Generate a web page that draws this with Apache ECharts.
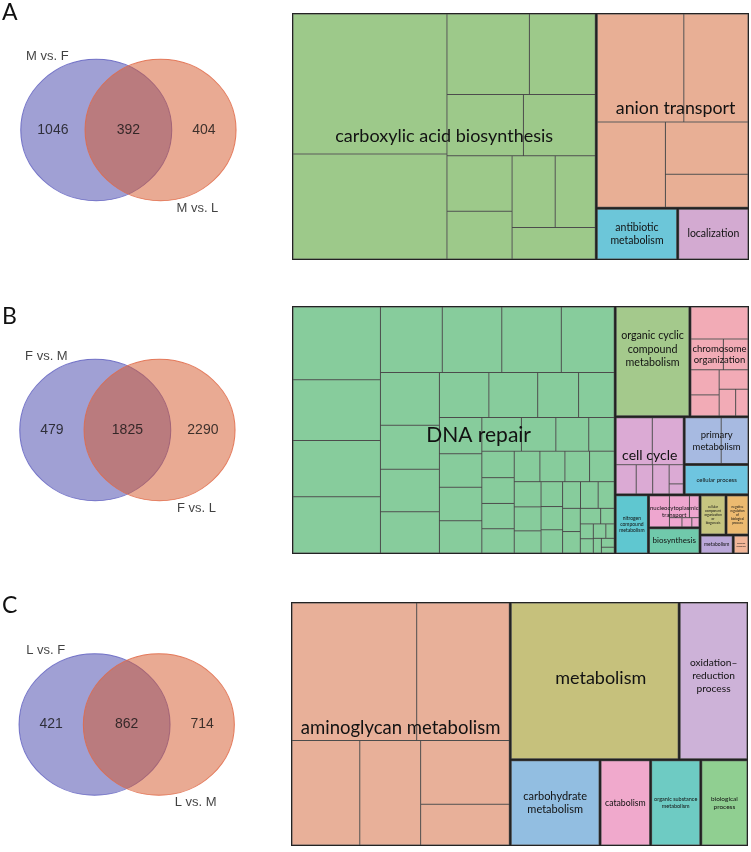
<!DOCTYPE html>
<html><head><meta charset="utf-8">
<script src="https://cdn.jsdelivr.net/npm/echarts@6/dist/echarts.min.js"></script>
<style>html,body{margin:0;padding:0;background:#fff}#c{width:751px;height:852px}</style>
</head><body><div id="c"></div>
<script>
// ---------------- DATA ----------------
const panelLetters = ['A', 'B', 'C'];
const vennSetNames = [['M vs. F', 'M vs. L'], ['F vs. M', 'F vs. L'], ['L vs. F', 'L vs. M']];
const vennOnlyFirst = [1046, 479, 421];
const vennShared = [392, 1825, 862];
const vennOnlySecond = [404, 2290, 714];

const termsA = ['carboxylic acid biosynthesis', 'anion transport', 'antibiotic\nmetabolism', 'localization'];
const cellsA = [
  [21855, 16378, 6723, 5373, 4748, 4461, 3659, 3159, 3136, 2917, 2660],
  [9556, 7085, 5934, 4406, 2789],
  [4212],
  [3692]
];

const termsB = ['DNA repair', 'organic cyclic\ncompound\nmetabolism', 'chromosome\norganization', 'cell cycle',
  'primary\nmetabolism', 'cellular process', 'nitrogen\ncompound\nmetabolism', 'nucleocytoplasmic\ntransport',
  'biosynthesis', 'cellular\ncomponent\norganization\nor\nbiogenesis', 'negative\nregulation\nof\nbiological\nprocess',
  'metabolism', 'immune\nresponse'];
const cellsB = [
  [6429, 5377, 4968, 4968, 4093, 3940, 3940, 3502, 3147, 2616, 2537, 2458, 2250, 2220, 1860, 1620,
   1552, 1439, 1439, 1383, 1347, 1173, 1120, 867, 867, 844, 828, 794, 792, 771, 760, 760, 683, 650,
   600, 542, 506, 506, 483, 475, 433, 416, 384, 320, 213, 195, 187, 183, 122, 120, 115, 75],
  [8250],
  [1917, 1050, 797, 745, 621, 589, 462, 345],
  [1780, 1526, 614, 507, 505, 285, 148],
  [1760, 1312],
  [1965],
  [1960],
  [682, 481, 231, 127, 100, 73],
  [1344],
  [1040],
  [920],
  [627],
  [298]
];
const blocksB = [[0], [1, 2], [3, 4, 5], [6, 7, 8, 9, 10, 11, 12]];

const termsC = ['aminoglycan metabolism', 'metabolism', 'oxidation\u2013\nreduction\nprocess', 'carbohydrate\nmetabolism',
  'catabolism', 'organic substance\nmetabolism', 'biological\nprocess'];
const cellsC = [
  [17385, 12907, 7195, 6458, 5745, 3663],
  [26580],
  [10833],
  [7713],
  [4344],
  [4311],
  [4056]
];

// ---------------- STYLE / LAYOUT ----------------
const colorsA = ['#9dc98a', '#e8af95', '#6cc6d9', '#d3aad1'];
const colorsB = ['#87cc9c', '#a4c98c', '#f2abb6', '#dbaad4', '#a7bae1', '#6ec5e0', '#5fc7d0', '#eea6cf',
  '#70c9ab', '#c6c580', '#ecba70', '#bba8d9', '#f2b698'];
const colorsC = ['#e8b099', '#c6c17c', '#cdb2d8', '#92bee1', '#f0a9cc', '#6ecbc3', '#90cf91'];
const fontsA = [18, 17.8, 10.5, 10.5];
const fontsB = [21, 10.7, 9.5, 14, 9.5, 6, 5, 6, 8, 3.2, 3.2, 5, 2.4];
const fontsC = [18.5, 18, 10.2, 11, 8.7, 5.5, 6.5];
const offsetsA = [[0, 0], [3, -2], [0, 0], [0, 0]];
const offsetsB = [[25, 5], [0, -12], [0, -7], [0, 0], [0, 0], [0, 0], [0, 0], [0, 0], [0, 0], [0, 0], [0, 0], [0, 0], [0, 0]];
const offsetsC = [[0, 4], [6, -3], [0, -5], [0, 0], [0, 0], [0, 0], [0, 0]];
const treeBoxes = [
  {left: 292, top: 13, width: 457, height: 247},
  {left: 292, top: 306, width: 457, height: 248},
  {left: 291, top: 602, width: 457, height: 244}
];
const vennCenters = [[128.4, 130], [127.4, 430], [126.7, 724.5]];
const vennSep = 64.3, vennW = 151, vennH = 141.5;
const vennNameOffsets = [[-81, -74], [69, 78]];
const letterTops = [1, 305, 594];

const labelFont = 'Lato, "Open Sans", sans-serif';
const clear = 'rgba(0,0,0,0)';
const sum = a => a.reduce((s, v) => s + v, 0);

function groupNode(terms, cells, colors, i) {
  return {
    name: terms[i],
    itemStyle: {borderColor: '#232323', borderWidth: 1},
    children: cells[i].map(v => ({
      name: '', value: v,
      itemStyle: {color: colors[i], borderColor: '#5a5a5a', borderWidth: 0.5}
    }))
  };
}
function labelNode(terms, cells, fonts, offsets, i) {
  return {
    name: terms[i], value: sum(cells[i]),
    itemStyle: {color: clear, borderColor: clear, borderWidth: 0},
    label: {show: true, fontSize: fonts[i], lineHeight: Math.round(fonts[i] * 1.25 * 10) / 10, offset: offsets[i]}
  };
}
function wrap(blocks, fn) {
  return blocks.map((b, k) => ({
    name: 'block' + k,
    itemStyle: {borderWidth: 0, borderColor: '#232323', color: '#232323'},
    children: b.map(fn)
  }));
}
function mainSeries(box, data) {
  return Object.assign({
    type: 'treemap', roam: false, nodeClick: false, silent: true, animation: false, z: 2,
    squareRatio: 1.1, breadcrumb: {show: false},
    label: {show: false}, upperLabel: {show: false},
    itemStyle: {borderWidth: 0, gapWidth: 0, borderColor: '#232323'},
    data
  }, box);
}
function labelSeries(box, data) {
  return Object.assign({
    type: 'treemap', roam: false, nodeClick: false, silent: true, animation: false, z: 4,
    squareRatio: 1.1, breadcrumb: {show: false},
    label: {show: true, position: 'inside', color: '#121212', fontFamily: labelFont,
      overflow: 'none', padding: 0, formatter: '{b}'},
    upperLabel: {show: false},
    itemStyle: {borderWidth: 0, gapWidth: 0, color: clear, borderColor: clear},
    data
  }, box);
}
function clearWrap(node) {
  if (node.children) node.itemStyle = {borderWidth: 0, color: clear, borderColor: clear};
  return node;
}

const series = [];
series.push(mainSeries(treeBoxes[0], termsA.map((t, i) => groupNode(termsA, cellsA, colorsA, i))));
series.push(labelSeries(treeBoxes[0], termsA.map((t, i) => labelNode(termsA, cellsA, fontsA, offsetsA, i))));
series.push(mainSeries(treeBoxes[1], wrap(blocksB, i => groupNode(termsB, cellsB, colorsB, i))));
series.push(labelSeries(treeBoxes[1], wrap(blocksB, i => labelNode(termsB, cellsB, fontsB, offsetsB, i)).map(clearWrap)));
series.push(mainSeries(treeBoxes[2], termsC.map((t, i) => groupNode(termsC, cellsC, colorsC, i))));
series.push(labelSeries(treeBoxes[2], termsC.map((t, i) => labelNode(termsC, cellsC, fontsC, offsetsC, i))));

// Venn diagrams
const ellipse = 'path://M0,-1A1,1,0,1,1,0,1A1,1,0,1,1,0,-1Z';
const grids = [], xAxes = [], yAxes = [];
const rx = vennW / 2;
for (let p = 0; p < 3; p++) {
  const [cx, cy] = vennCenters[p];
  grids.push({left: cx - 120, top: cy - 100, width: 240, height: 200});
  xAxes.push({gridIndex: p, type: 'value', min: -120, max: 120, show: false});
  yAxes.push({gridIndex: p, type: 'value', min: -100, max: 100, inverse: true, show: false});
  series.push({
    type: 'scatter', xAxisIndex: p, yAxisIndex: p, symbol: ellipse, symbolSize: [vennW, vennH],
    silent: true, animation: false, z: 2,
    data: [
      {value: [-vennSep / 2, 0], itemStyle: {color: 'rgba(65,65,170,0.5)', borderColor: 'rgba(90,90,190,0.8)', borderWidth: 1, opacity: 1}},
      {value: [vennSep / 2, 0], itemStyle: {color: 'rgba(211,85,40,0.5)', borderColor: 'rgba(225,105,70,0.85)', borderWidth: 1, opacity: 1}}
    ]
  });
  series.push({
    type: 'scatter', xAxisIndex: p, yAxisIndex: p, symbolSize: 0, silent: true, animation: false, z: 5,
    label: {show: true, position: 'inside', formatter: '{b}', color: '#111',
      fontFamily: '"Liberation Sans", Arial, sans-serif', fontSize: 14},
    data: [
      {name: String(vennOnlyFirst[p]), value: [-rx, 0]},
      {name: String(vennShared[p]), value: [0, 0]},
      {name: String(vennOnlySecond[p]), value: [rx, 0]}
    ]
  });
  series.push({
    type: 'scatter', xAxisIndex: p, yAxisIndex: p, symbolSize: 0, silent: true, animation: false, z: 5,
    label: {show: true, position: 'inside', formatter: '{b}', color: '#111',
      fontFamily: '"Liberation Sans", Arial, sans-serif', fontSize: 13},
    data: vennSetNames[p].map((n, k) => ({name: n, value: vennNameOffsets[k]}))
  });
}

const chart = echarts.init(document.getElementById('c'), null, {renderer: 'canvas'});
chart.setOption({
  animation: false,
  backgroundColor: '#fff',
  title: panelLetters.map((l, p) => ({
    text: l, left: 2, top: letterTops[p], padding: 0,
    textStyle: {fontSize: 23, fontWeight: 'normal', color: '#111', fontFamily: labelFont}
  })),
  grid: grids, xAxis: xAxes, yAxis: yAxes,
  series
});
</script></body></html>
